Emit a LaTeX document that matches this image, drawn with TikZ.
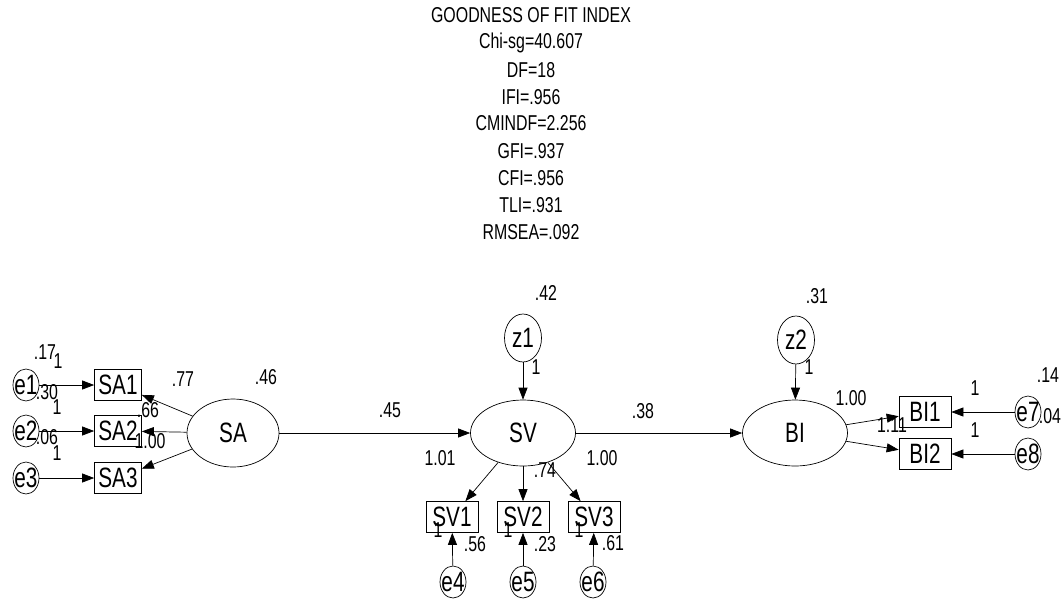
\documentclass[tikz,border=0pt]{standalone}
\usepackage{fontspec}
\setmainfont[FakeStretch=0.74]{Liberation Sans}
\usetikzlibrary{shapes.geometric,arrows.meta}
\begin{document}
\begin{tikzpicture}[x=1pt,y=-1pt,
  num/.style={inner sep=0pt,font=\fontsize{21.5}{24}\selectfont},
  ttl/.style={inner sep=0pt,font=\fontsize{21.5}{24}\selectfont},
  big/.style={inner sep=0pt,font=\fontsize{28}{30}\selectfont},
  obs/.style={draw,line width=0.7pt,rectangle,inner sep=0pt,minimum height=31pt,font=\fontsize{28}{30}\selectfont},
  obsA/.style={obs,minimum width=47pt},
  obsB/.style={obs,minimum width=52pt},
  lat/.style={draw,line width=0.7pt,ellipse,inner sep=0pt,minimum width=105pt,minimum height=66pt,font=\fontsize{28}{30}\selectfont},
  err/.style={draw,line width=0.7pt,ellipse,inner sep=0pt,minimum width=26pt,minimum height=32pt,label={[big]center:#1}},
  dis/.style={draw,line width=0.7pt,ellipse,inner sep=0pt,minimum width=37pt,minimum height=48pt,label={[big]center:#1}},
  arr/.style={line width=0.7pt,-{Triangle[length=12pt,width=9pt]}}]
\useasboundingbox (0,0) rectangle (1062,598);
% title
\node[ttl] (t1) at (531,15) {GOODNESS OF FIT INDEX};
\node[ttl] (t2) at (531,43) {Chi-sg=40.607};
\node[ttl] (t3) at (531,70) {DF=18};
\node[ttl] (t4) at (531,97) {IFI=.956};
\node[ttl] (t5) at (531,123) {CMINDF=2.256};
\node[ttl] (t6) at (531,151) {GFI=.937};
\node[ttl] (t7) at (531,178) {CFI=.956};
\node[ttl] (t8) at (531,205) {TLI=.931};
\node[ttl] (t9) at (531,232) {RMSEA=.092};
% latents
\node[lat,minimum width=92pt,minimum height=68pt] (SA) at (233,433) {SA};
\node[lat] (SV) at (523,433) {SV};
\node[lat] (BI) at (795,433) {BI};
\node[dis=z1] (z1) at (523,338) {};
\node[dis=z2] (z2) at (796,340) {};
% observed
\node[obsA] (SA1) at (118,385) {SA1};
\node[obsA] (SA2) at (118,431) {SA2};
\node[obsA] (SA3) at (118,478) {SA3};
\node[obsB] (SV1) at (452,517) {SV1};
\node[obsB] (SV2) at (523,517) {SV2};
\node[obsB] (SV3) at (594,517) {SV3};
\node[obsB] (BI1) at (925,412) {BI1};
\node[obsB] (BI2) at (925,454) {BI2};
% errors
\node[err=e1] (e1) at (26,385) {};
\node[err=e2] (e2) at (26,431) {};
\node[err=e3] (e3) at (26,478) {};
\node[err=e4] (e4) at (453,582) {};
\node[err=e5] (e5) at (523,582) {};
\node[err=e6] (e6) at (593,582) {};
\node[err=e7] (e7) at (1028,412) {};
\node[err=e8] (e8) at (1028,454) {};
% arrows
\draw[arr] (e1) -- (SA1);
\draw[arr] (e2) -- (SA2);
\draw[arr] (e3) -- (SA3);
\draw[arr] (SA) -- (SA1);
\draw[arr] (SA) -- (SA2);
\draw[arr] (SA) -- (SA3);
\draw[arr] (SA) -- (SV);
\draw[arr] (z1) -- (SV);
\draw[arr] (SV) -- (SV1);
\draw[arr] (SV) -- (SV2);
\draw[arr] (SV) -- (SV3);
\draw[arr] (e4) -- (SV1);
\draw[arr] (e5) -- (SV2);
\draw[arr] (e6) -- (SV3);
\draw[arr] (SV) -- (BI);
\draw[arr] (z2) -- (BI);
\draw[arr] (BI) -- (BI1);
\draw[arr] (BI) -- (BI2);
\draw[arr] (e7) -- (BI1);
\draw[arr] (e8) -- (BI2);
% labels
\node[num] (l1) at (45,352) {.17};
\node[num] (l2) at (58,361) {1};
\node[num] (l3) at (47,392) {.30};
\node[num] (l4) at (57,407) {1};
\node[num] (l5) at (47,437) {.06};
\node[num] (l6) at (57,453) {1};
\node[num] (l7) at (183,379) {.77};
\node[num] (l8) at (266,377) {.46};
\node[num] (l9) at (148,410) {.66};
\node[num] (l10) at (150,441) {1.00};
\node[num] (l11) at (390,410) {.45};
\node[num] (l12) at (546,293) {.42};
\node[num] (l13) at (536,367) {1};
\node[num] (l14) at (440,458) {1.01};
\node[num] (l15) at (545,470) {.74};
\node[num] (l16) at (602,458) {1.00};
\node[num] (l17) at (438,530) {1};
\node[num] (l18) at (508,530) {1};
\node[num] (l19) at (579,530) {1};
\node[num] (l20) at (475,544) {.56};
\node[num] (l21) at (545,544) {.23};
\node[num] (l22) at (613,543) {.61};
\node[num] (l23) at (643,411) {.38};
\node[num] (l24) at (817,296) {.31};
\node[num] (l25) at (809,367) {1};
\node[num] (l26) at (851,398) {1.00};
\node[num] (l27) at (892,425) {1.11};
\node[num] (l28) at (1048,375) {.14};
\node[num] (l29) at (1050,416) {.04};
\node[num] (l30) at (975,388) {1};
\node[num] (l31) at (975,430) {1};
\end{tikzpicture}
\end{document}
